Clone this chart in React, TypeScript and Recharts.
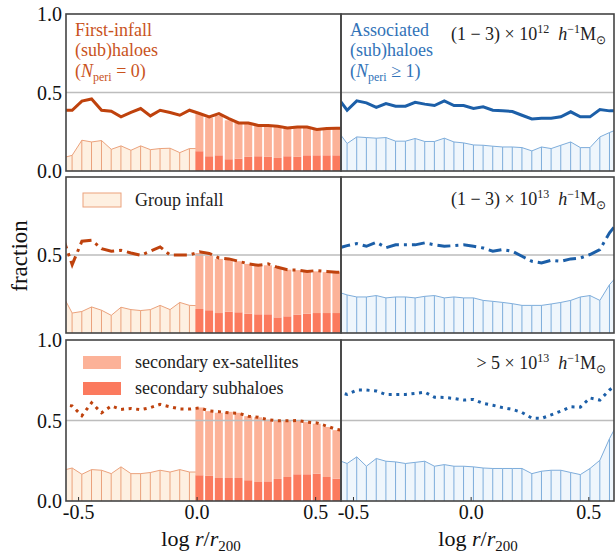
import React from 'react';
import { ComposedChart, Area, Bar, Line, XAxis, YAxis, ReferenceLine } from 'recharts';

// bin centres in log r/r200 (first and last fall just outside the axis range)
const binX = [
  -0.568, -0.527, -0.486, -0.445, -0.403, -0.362, -0.321, -0.279, -0.238, -0.197,
  -0.156, -0.114, -0.073, -0.032, 0.010, 0.051, 0.092, 0.134, 0.175, 0.216,
  0.258, 0.299, 0.340, 0.381, 0.423, 0.464, 0.505, 0.547, 0.588, 0.629,
];
const BAR_START = 14; // index of the first bin with r > r200

const xTicks = [-0.5, 0, 0.5];

// row 1: (1-3)e12
const firstInfall12 = [0.387, 0.387, 0.445, 0.459, 0.387, 0.381, 0.345, 0.373, 0.398, 0.351, 0.387, 0.373, 0.355, 0.387, 0.366, 0.345, 0.366, 0.334, 0.306, 0.306, 0.29, 0.29, 0.285, 0.274, 0.28, 0.28, 0.265, 0.27, 0.272, 0.272];
const groupInfall12 = [0.083, 0.1, 0.196, 0.185, 0.194, 0.138, 0.16, 0.132, 0.16, 0.136, 0.143, 0.145, 0.117, 0.143, 0.143];
const exSatellites12 = [0.362, 0.34, 0.351, 0.323, 0.306, 0.302, 0.288, 0.288, 0.281, 0.27, 0.281, 0.281, 0.265, 0.27, 0.27, 0.27];
const secSubhaloes12 = [0.126, 0.094, 0.1, 0.075, 0.079, 0.09, 0.094, 0.09, 0.083, 0.094, 0.09, 0.1, 0.1, 0.1, 0.1, 0.1];
const associated12 = [0.47, 0.387, 0.447, 0.434, 0.405, 0.43, 0.413, 0.413, 0.437, 0.426, 0.417, 0.447, 0.417, 0.417, 0.398, 0.409, 0.387, 0.383, 0.379, 0.355, 0.332, 0.336, 0.336, 0.345, 0.377, 0.345, 0.345, 0.392, 0.383, 0.383];
const assocGroup12 = [0.258, 0.175, 0.217, 0.213, 0.209, 0.213, 0.19, 0.19, 0.207, 0.188, 0.188, 0.209, 0.185, 0.179, 0.166, 0.164, 0.158, 0.153, 0.153, 0.149, 0.128, 0.153, 0.143, 0.164, 0.185, 0.149, 0.149, 0.217, 0.245, 0.27];

// row 2: (1-3)e13
const firstInfall13 = [0.62, 0.438, 0.588, 0.594, 0.541, 0.524, 0.53, 0.513, 0.498, 0.524, 0.552, 0.5, 0.5, 0.5, 0.52, 0.51, 0.481, 0.475, 0.46, 0.443, 0.434, 0.443, 0.421, 0.406, 0.403, 0.395, 0.4, 0.395, 0.39, 0.39];
const groupInfall13 = [0.245, 0.128, 0.138, 0.167, 0.146, 0.113, 0.165, 0.15, 0.144, 0.15, 0.177, 0.15, 0.196, 0.177, 0.175];
const exSatellites13 = [0.513, 0.496, 0.475, 0.475, 0.46, 0.443, 0.434, 0.434, 0.421, 0.406, 0.403, 0.395, 0.395, 0.39, 0.39, 0.39];
const secSubhaloes13 = [0.154, 0.146, 0.128, 0.137, 0.133, 0.124, 0.12, 0.12, 0.1, 0.107, 0.118, 0.124, 0.128, 0.128, 0.128, 0.128];
const associated13 = [0.543, 0.56, 0.573, 0.556, 0.582, 0.547, 0.565, 0.565, 0.565, 0.578, 0.565, 0.556, 0.56, 0.565, 0.556, 0.545, 0.524, 0.535, 0.524, 0.492, 0.46, 0.449, 0.466, 0.46, 0.475, 0.481, 0.503, 0.535, 0.642, 0.72];
const assocGroup13 = [0.264, 0.244, 0.231, 0.231, 0.24, 0.225, 0.231, 0.231, 0.225, 0.235, 0.24, 0.225, 0.231, 0.225, 0.225, 0.209, 0.203, 0.196, 0.188, 0.177, 0.177, 0.177, 0.186, 0.196, 0.209, 0.231, 0.24, 0.209, 0.31, 0.38];

// row 3: >5e13
const firstInfall5 = [0.6, 0.59, 0.53, 0.61, 0.548, 0.59, 0.569, 0.575, 0.567, 0.58, 0.6, 0.585, 0.572, 0.571, 0.578, 0.56, 0.555, 0.548, 0.545, 0.527, 0.52, 0.505, 0.498, 0.498, 0.5, 0.49, 0.485, 0.465, 0.445, 0.435];
const groupInfall5 = [0.19, 0.205, 0.166, 0.195, 0.191, 0.17, 0.212, 0.17, 0.17, 0.177, 0.191, 0.18, 0.195, 0.18, 0.18];
const exSatellites5 = [0.581, 0.558, 0.548, 0.554, 0.548, 0.527, 0.52, 0.506, 0.498, 0.498, 0.502, 0.49, 0.48, 0.46, 0.44, 0.43];
const secSubhaloes5 = [0.16, 0.156, 0.143, 0.143, 0.143, 0.129, 0.118, 0.122, 0.137, 0.149, 0.166, 0.166, 0.17, 0.149, 0.139, 0.14];
const associated5 = [0.68, 0.662, 0.689, 0.689, 0.683, 0.662, 0.662, 0.662, 0.668, 0.676, 0.645, 0.643, 0.637, 0.627, 0.631, 0.606, 0.595, 0.58, 0.569, 0.55, 0.515, 0.513, 0.535, 0.558, 0.585, 0.583, 0.64, 0.627, 0.69, 0.73];
const assocGroup5 = [0.255, 0.233, 0.274, 0.216, 0.264, 0.247, 0.243, 0.233, 0.24, 0.247, 0.216, 0.226, 0.216, 0.216, 0.212, 0.205, 0.202, 0.202, 0.202, 0.202, 0.17, 0.185, 0.191, 0.191, 0.177, 0.164, 0.202, 0.253, 0.388, 0.5];

const ORANGE = '#bf420d';
const ORANGE_TEXT = '#c9531d';
const ORANGE_FILL = '#fef0e1';
const ORANGE_EDGE = '#eba27c';
const EXSAT = '#fcb298';
const SUBH = '#fb7a5e';
const BLUE = '#1c5fa8';
const BLUE_TEXT = '#3273b8';
const BLUE_FILL = '#eff6fc';
const BLUE_EDGE = '#7eaddb';
const FONT = '"Liberation Serif", serif';

const DASHES = ['', '13 5 3 5', '3 4.6'];

const leftTable = (line: number[], hist: number[], total: number[], sub: number[]) =>
  binX.map((x, i) => ({
    x,
    line: line[i],
    hist: i < hist.length ? hist[i] : null,
    stem: i < hist.length - 1 ? hist[i] : 0,
    sub: i >= BAR_START ? sub[i - BAR_START] : 0,
    exsat: i >= BAR_START ? total[i - BAR_START] - sub[i - BAR_START] : 0,
  }));

const rightTable = (line: number[], hist: number[]) =>
  binX.map((x, i) => ({ x, line: line[i], hist: hist[i], stem: hist[i] }));

const rows = [
  { top: 14, h: 157, left: leftTable(firstInfall12, groupInfall12, exSatellites12, secSubhaloes12), right: rightTable(associated12, assocGroup12), yTicks: [0, 0.5, 1] },
  { top: 177, h: 156, left: leftTable(firstInfall13, groupInfall13, exSatellites13, secSubhaloes13), right: rightTable(associated13, assocGroup13), yTicks: [0.5] },
  { top: 340, h: 161, left: leftTable(firstInfall5, groupInfall5, exSatellites5, secSubhaloes5), right: rightTable(associated5, assocGroup5), yTicks: [0, 0.5, 1] },
];

const LEFT_X = 66;
const LEFT_W = 275;
const RIGHT_X = 341;
const RIGHT_W = 273;
const RIGHT_PAD = 24;

const fmt = (v: number) => v.toFixed(1);

const stemShape = (color: string) => (p: any) => {
  if (!p.height || p.height <= 0.5) return <g />;
  const cx = p.x + p.width / 2;
  return <line x1={cx} x2={cx} y1={p.y} y2={p.y + p.height} stroke={color} strokeWidth={1} />;
};

function Panel({ row, side }: { row: number; side: 'left' | 'right' }) {
  const r = rows[row];
  const isLeft = side === 'left';
  const bottom = row === 2;
  const xh = bottom ? 32 : 2;
  const mb = bottom ? 0 : 12;
  const padL = isLeft ? 0 : RIGHT_PAD;
  const width = isLeft ? LEFT_X + LEFT_W : padL + RIGHT_W + 2;
  const height = 10 + r.h + xh + mb;
  const line = isLeft ? ORANGE : BLUE;
  const edge = isLeft ? ORANGE_EDGE : BLUE_EDGE;
  const fill = isLeft ? ORANGE_FILL : BLUE_FILL;
  return (
    <div style={{ position: 'absolute', left: isLeft ? 0 : RIGHT_X - padL, top: r.top - 10 }}>
      <ComposedChart
        width={width}
        height={height}
        data={isLeft ? r.left : r.right}
        margin={{ top: 10, right: isLeft ? 0 : 2, bottom: mb, left: padL }}
        barCategoryGap="8%"
      >
        <XAxis
          dataKey="x"
          type="number"
          domain={[-0.553, 0.607]}
          allowDataOverflow
          ticks={xTicks}
          interval={0}
          height={xh}
          tickSize={-4}
          tickMargin={bottom ? 8 : 0}
          axisLine={false}
          tickLine={{ stroke: '#333', strokeWidth: 1 }}
          tick={bottom ? { fontSize: 20, fill: '#111', fontFamily: FONT } : false}
          tickFormatter={fmt}
        />
        <YAxis
          type="number"
          domain={[0, 1]}
          allowDataOverflow
          ticks={r.yTicks}
          interval={0}
          hide={!isLeft}
          width={LEFT_X}
          tickLine={false}
          axisLine={false}
          tickSize={0}
          tickMargin={4}
          tick={{ fontSize: 20, fill: '#111', fontFamily: FONT }}
          tickFormatter={fmt}
        />
        <ReferenceLine y={0.5} stroke="#bdbdbd" strokeWidth={1.5} />
        <Area
          dataKey="hist"
          type="linear"
          stroke={edge}
          strokeWidth={1}
          fill={fill}
          fillOpacity={1}
          connectNulls={false}
          isAnimationActive={false}
        />
        <Bar dataKey="stem" stackId="s" shape={stemShape(edge)} isAnimationActive={false} />
        {isLeft && <Bar dataKey="sub" stackId="s" fill={SUBH} isAnimationActive={false} />}
        {isLeft && <Bar dataKey="exsat" stackId="s" fill={EXSAT} isAnimationActive={false} />}
        <Line
          dataKey="line"
          type="linear"
          stroke={line}
          strokeWidth={3}
          strokeDasharray={DASHES[row] || undefined}
          dot={false}
          isAnimationActive={false}
        />
      </ComposedChart>
    </div>
  );
}

function Sub({ children, size = 12 }: { children: React.ReactNode; size?: number }) {
  return <tspan dy={4} fontSize={size}>{children}</tspan>;
}

function MassLabel({ y, prefix, exp }: { y: number; prefix: string; exp: string }) {
  return (
    <text x={606} y={y} textAnchor="end" fontSize={18} fill="#222" fontFamily={FONT}>
      {prefix}10
      <tspan dy={-7} fontSize={12}>{exp}</tspan>
      <tspan dy={7}>{'\u2002'}</tspan>
      <tspan fontStyle="italic">h</tspan>
      <tspan dy={-7} fontSize={12}>{'\u22121'}</tspan>
      <tspan dy={7}>M</tspan>
      <tspan dy={4} fontSize={12}>{'\u2299'}</tspan>
    </text>
  );
}

function XLabel({ cx }: { cx: number }) {
  return (
    <text x={cx} y={546} textAnchor="middle" fontSize={22} fill="#111" fontFamily={FONT}>
      log <tspan fontStyle="italic">r</tspan>/<tspan fontStyle="italic">r</tspan>
      <tspan dy={5} fontSize={15}>200</tspan>
    </text>
  );
}

export default function App() {
  return (
    <div style={{ position: 'absolute', left: 0, top: 0, width: 615, height: 554, background: '#fff', overflow: 'hidden' }}>
      {[0, 1, 2].map((row) => (
        <React.Fragment key={row}>
          <Panel row={row} side="left" />
          <Panel row={row} side="right" />
        </React.Fragment>
      ))}
      <svg width={615} height={554} style={{ position: 'absolute', left: 0, top: 0, pointerEvents: 'none' }}>
        {rows.map((r, i) => (
          <g key={i} fill="none" stroke="#444" strokeWidth={1.6}>
            <rect x={LEFT_X} y={r.top} width={LEFT_W} height={r.h} />
            <rect x={RIGHT_X} y={r.top} width={RIGHT_W} height={r.h} />
          </g>
        ))}

        <g fontFamily={FONT} fontSize={18} fill={ORANGE_TEXT}>
          <text x={75} y={36}>First-infall</text>
          <text x={75} y={56}>(sub)haloes</text>
          <text x={75} y={77}>
            (<tspan fontStyle="italic">N</tspan>
            <Sub>peri</Sub>
            <tspan dy={-4}>{' = 0)'}</tspan>
          </text>
        </g>
        <g fontFamily={FONT} fontSize={18} fill={BLUE_TEXT}>
          <text x={350} y={36}>Associated</text>
          <text x={350} y={56}>(sub)haloes</text>
          <text x={350} y={77}>
            (<tspan fontStyle="italic">N</tspan>
            <Sub>peri</Sub>
            <tspan dy={-4}>{' \u2265 1)'}</tspan>
          </text>
        </g>

        <MassLabel y={40} prefix={'(1 \u2212 3) \u00d7 '} exp="12" />
        <MassLabel y={205} prefix={'(1 \u2212 3) \u00d7 '} exp="13" />
        <MassLabel y={369} prefix={'> 5 \u00d7 '} exp="13" />

        <rect x={83} y={193} width={38} height={14} fill={ORANGE_FILL} stroke={ORANGE_EDGE} strokeWidth={1} />
        <text x={135} y={206} fontSize={18} fill="#222" fontFamily={FONT}>Group infall</text>
        <rect x={83} y={356} width={38} height={13} fill={EXSAT} />
        <text x={135} y={368} fontSize={18} fill="#222" fontFamily={FONT}>secondary ex-satellites</text>
        <rect x={83} y={382} width={38} height={13} fill={SUBH} />
        <text x={135} y={394} fontSize={18} fill="#222" fontFamily={FONT}>secondary subhaloes</text>

        <text
          transform="translate(27,256) rotate(-90)"
          textAnchor="middle"
          fontSize={23}
          fill="#111"
          fontFamily={FONT}
        >
          fraction
        </text>
        <XLabel cx={201} />
        <XLabel cx={478} />
      </svg>
    </div>
  );
}
